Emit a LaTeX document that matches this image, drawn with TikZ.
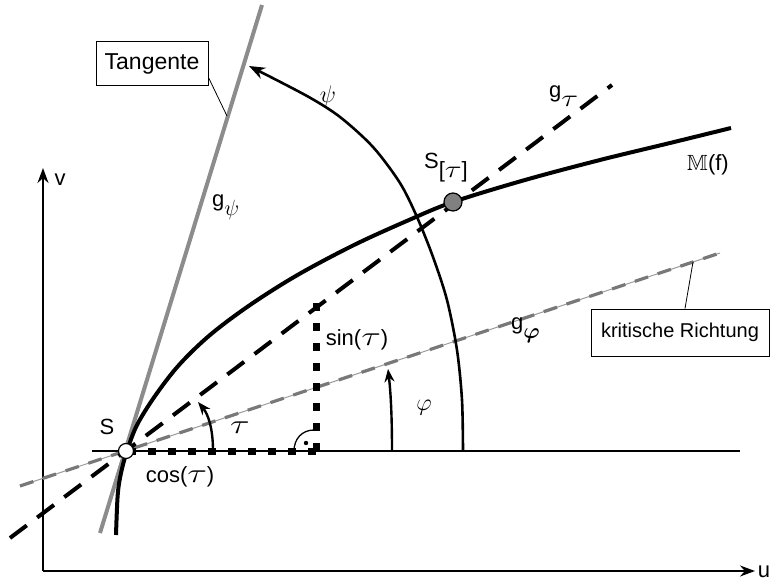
\RequirePackage{fix-cm}
\documentclass[tikz,border=0pt]{standalone}
\usepackage{amsmath}
\usepackage{amssymb}
\usepackage{fontspec}
\setmainfont{Liberation Sans}
\usetikzlibrary{arrows.meta}
\definecolor{tangray}{RGB}{140,140,140}
\definecolor{phigray}{RGB}{120,120,120}
\definecolor{philight}{RGB}{155,155,155}
\definecolor{ptgray}{RGB}{128,128,128}
\newcommand{\gk}[2]{{\fontsize{#1}{#1}\selectfont$#2$}}
\newcommand{\tauL}{\scalebox{1.35}[1]{\gk{27}{\tau}}}
\newcommand{\tauS}{\scalebox{1.3}[1]{\gk{24}{\tau}}}
\newcommand{\lowsub}[1]{\raisebox{-0.4em}{#1}}
\begin{document}
\begin{tikzpicture}[x=1pt,y=-1pt,
  lbl/.style={font=\fontsize{22}{26}\selectfont, inner sep=0pt},
  boxlbl/.style={draw, line width=1pt, inner sep=0pt},
  axis/.style={line width=1.5pt, -{Stealth[length=15pt,width=11pt]}},
  baseline/.style={line width=1.4pt},
  curvestyle/.style={line width=4pt},
  tauline/.style={line width=4pt, dash pattern=on 21pt off 13pt},
  tanline/.style={line width=4pt, tangray},
  dotsq/.style={line width=7pt, dash pattern=on 8pt off 12pt},
  bigarc/.style={line width=2.6pt, -{Stealth[length=16pt,width=12pt]}},
  smallarc/.style={line width=2.4pt, -{Stealth[length=13pt,width=10pt]}},
  leader/.style={line width=0.8pt}
]
\useasboundingbox (0,0) rectangle (771,583);

% named coordinates
\coordinate (S) at (126,451);
\coordinate (O) at (43,571);
\coordinate (vtip) at (43,168);
\coordinate (utip) at (755,571);
\coordinate (hl) at (92,451);
\coordinate (hr) at (740,451);
\coordinate (phiA) at (20,486);
\coordinate (phiB) at (720,253);
\coordinate (tauA) at (10,538);
\coordinate (tauB) at (612,85);
\coordinate (tanA) at (100,533);
\coordinate (tanB) at (262,5);
\coordinate (corner) at (316,451);
\coordinate (sintop) at (316,303);
\coordinate (cosend) at (130,451);
\coordinate (Stau) at (453,202);
\coordinate (tanfoot) at (227,116);
\coordinate (phifoot) at (693,262);

% baseline through S
\draw[baseline] (hl) -- (hr);

% axes
\draw[axis] (O) -- (vtip);
\draw[axis] (O) -- (utip);

% critical direction g_phi
\draw[line width=1pt, philight] (phiA) -- (phiB);
\draw[line width=3.2pt, phigray, dash pattern=on 14pt off 10pt] (phiA) -- (phiB);

% dotted cos/sin
\draw[dotsq] (corner) -- (cosend);
\draw[dotsq] (corner) -- (sintop);
% right angle mark
\draw[line width=1.3pt] (294,451) .. controls (294,439) and (302,430) .. (314,430);
\fill (306,443) circle (2.2pt);

% g_tau
\draw[tauline] (tauA) -- (tauB);

% tangent
\draw[tanline] (tanA) -- (tanB);

% curve M(f)
\draw[curvestyle] plot[smooth, tension=0.55] coordinates {
  (116,535) (117.7,495) (121,473) (127,451) (137,425) (155,396) (179,365)
  (210,335) (250,305) (297.5,275) (354,245) (409,220) (453,202) (525,180)
  (600,160) (670,143) (731,128)};

% psi arc
\draw[bigarc] plot[smooth, tension=0.5] coordinates {
  (463,451) (462,400) (457,350) (447,300) (433,257) (417,217) (400,183)
  (373,147) (340,117) (307,96) (249,66)};

% tau and phi angle arrows
\draw[smallarc] (213,451) .. controls (213,428) and (208,414) .. (198,402);
\draw[smallarc] (392,451) .. controls (392,420) and (391,395) .. (388,369);

% points
\node[circle, draw, fill=white, line width=1.2pt, minimum size=15pt, inner sep=0pt] (Sn) at (S) {};
\node[circle, draw, fill=ptgray, line width=1.2pt, minimum size=18pt, inner sep=0pt] (Stn) at (Stau) {};

% boxes and leaders
\node[boxlbl, font=\fontsize{23}{26}\selectfont, minimum width=112pt, minimum height=44pt] (tbox) at (152,64) {Tangente};
\draw[leader] (tbox.south east) ++(0,-9) coordinate (tl) -- (tanfoot);
\node[boxlbl, font=\fontsize{20}{24}\selectfont, minimum width=178pt, minimum height=47pt] (kbox) at (680,332.5) {kritische Richtung};
\draw[leader] (kbox.north) ++(5,0) coordinate (kl) -- (phifoot);

% labels
\node[lbl] (lv) at (60,180) {v};
\node[lbl] (lu) at (764,572) {u};
\node[lbl] (lS) at (107,427) {S};
\node[lbl] (lcos) at (180,477) {cos(\tauL)};
\node[lbl] (ltau) at (240,428) {\tauL};
\node[lbl] (lsin) at (357,340) {sin(\tauL)};
\node[lbl] (lphi) at (424,408) {\gk{24}{\varphi}};
\node[lbl] (lpsi) at (328,97) {\gk{24}{\psi}};
\node[lbl, anchor=west] (lgpsi) at (212,207) {g\lowsub{\gk{22}{\psi}}};
\node[lbl, anchor=west] (lgtau) at (549,96) {g\lowsub{\tauS}};
\node[lbl, anchor=west] (lgphi) at (511,330) {g\lowsub{\gk{22}{\boldsymbol{\varphi}}}};
\node[lbl, anchor=west] (lStau) at (424,168) {S\lowsub{[\tauS]}};
\node[lbl] (lM) at (708,165) {$\mathbb{M}$(f)};
\end{tikzpicture}
\end{document}
